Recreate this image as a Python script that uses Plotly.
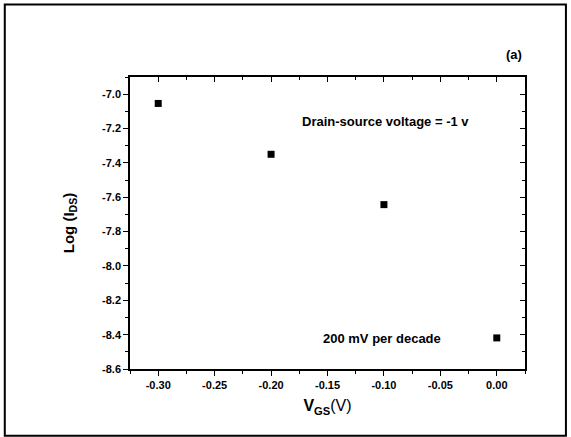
import plotly.graph_objects as go

vgs = [-0.30, -0.20, -0.10, 0.00]
log_ids = [-7.054, -7.35, -7.643, -8.419]

x_tickvals = [-0.30, -0.25, -0.20, -0.15, -0.10, -0.05, 0.00]
x_ticklabels = ["-0.30", "-0.25", "-0.20", "-0.15", "-0.10", "-0.05", "0.00"]
y_tickvals = [-8.6, -8.4, -8.2, -8.0, -7.8, -7.6, -7.4, -7.2, -7.0]
y_ticklabels = ["-8.6", "-8.4", "-8.2", "-8.0", "-7.8", "-7.6", "-7.4", "-7.2", "-7.0"]

FONT = "Liberation Sans, Arial, sans-serif"

fig = go.Figure()
fig.add_trace(go.Scatter(x=vgs, y=log_ids, mode="markers",
                         marker=dict(symbol="square", size=7, color="black"),
                         showlegend=False))
# invisible trace to activate mirrored axes (top/right with inside ticks)
fig.add_trace(go.Scatter(x=vgs, y=log_ids, xaxis="x2", yaxis="y2", mode="markers",
                         marker=dict(opacity=0), showlegend=False, hoverinfo="skip"))

xr = [-0.325, 0.025]
yr = [-8.6, -6.9]

tickfont = dict(size=11, family=FONT, weight="bold", color="black")

fig.update_layout(
    width=571, height=437,
    margin=dict(l=130, r=46, t=77, b=68),
    paper_bgcolor="white", plot_bgcolor="white",
    font=dict(family=FONT, color="black"),
    xaxis=dict(range=xr, tickmode="array", tickvals=x_tickvals,
               ticktext=["<b>%s</b>" % t for t in x_ticklabels],
               ticks="outside", ticklen=5, tickwidth=1, tickcolor="black",
               minor=dict(tickmode="linear", tick0=0, dtick=0.025, ticks="outside", ticklen=3, tickcolor="black"),
               showline=True, linecolor="black", linewidth=1.5, showgrid=False, zeroline=False,
               tickfont=tickfont,
               title=dict(text="<b>V<sub>GS</sub></b>(V)", font=dict(size=16), standoff=10)),
    yaxis=dict(range=yr, tickmode="array", tickvals=y_tickvals,
               ticktext=["<b>%s</b>" % t for t in y_ticklabels],
               ticks="outside", ticklen=5, tickwidth=1, tickcolor="black",
               minor=dict(tickmode="linear", tick0=-8.6, dtick=0.1, ticks="outside", ticklen=3, tickcolor="black"),
               showline=True, linecolor="black", linewidth=1.5, showgrid=False, zeroline=False,
               tickfont=tickfont,
               title=dict(text="<b>Log (I<sub>DS</sub>)</b>", font=dict(size=15), standoff=24)),
    xaxis2=dict(range=xr, overlaying="x", side="top", tickmode="array", tickvals=x_tickvals,
                ticks="inside", ticklen=5, tickcolor="black",
                minor=dict(tickmode="linear", tick0=0, dtick=0.025, ticks="inside", ticklen=3, tickcolor="black"),
                showticklabels=False, showline=True, linecolor="black", linewidth=1.5,
                showgrid=False, zeroline=False),
    yaxis2=dict(range=yr, overlaying="y", side="right", tickmode="array", tickvals=y_tickvals,
                ticks="inside", ticklen=5, tickcolor="black",
                minor=dict(tickmode="linear", tick0=-8.6, dtick=0.1, ticks="inside", ticklen=3, tickcolor="black"),
                showticklabels=False, showline=True, linecolor="black", linewidth=1.5,
                showgrid=False, zeroline=False),
)

fig.add_shape(type="rect", xref="paper", yref="paper",
              x0=-0.317, x1=1.1036, y0=-0.229, y1=1.248,
              line=dict(color="black", width=2), fillcolor="rgba(0,0,0,0)")

fig.add_annotation(text="<b>(a)</b>", xref="paper", yref="paper", x=0.972, y=1.0766,
                   xanchor="center", yanchor="middle",
                   showarrow=False, font=dict(size=13))
fig.add_annotation(text="<b>Drain-source voltage = -1 v</b>", x=-0.099, y=-7.159,
                   showarrow=False, font=dict(size=13))
fig.add_annotation(text="<b>200 mV per decade</b>", x=-0.102, y=-8.423,
                   showarrow=False, font=dict(size=13))

fig.write_html("out.html", config={"displayModeBar": False},
               post_script="document.body.style.margin='0';document.body.style.overflow='hidden';")
